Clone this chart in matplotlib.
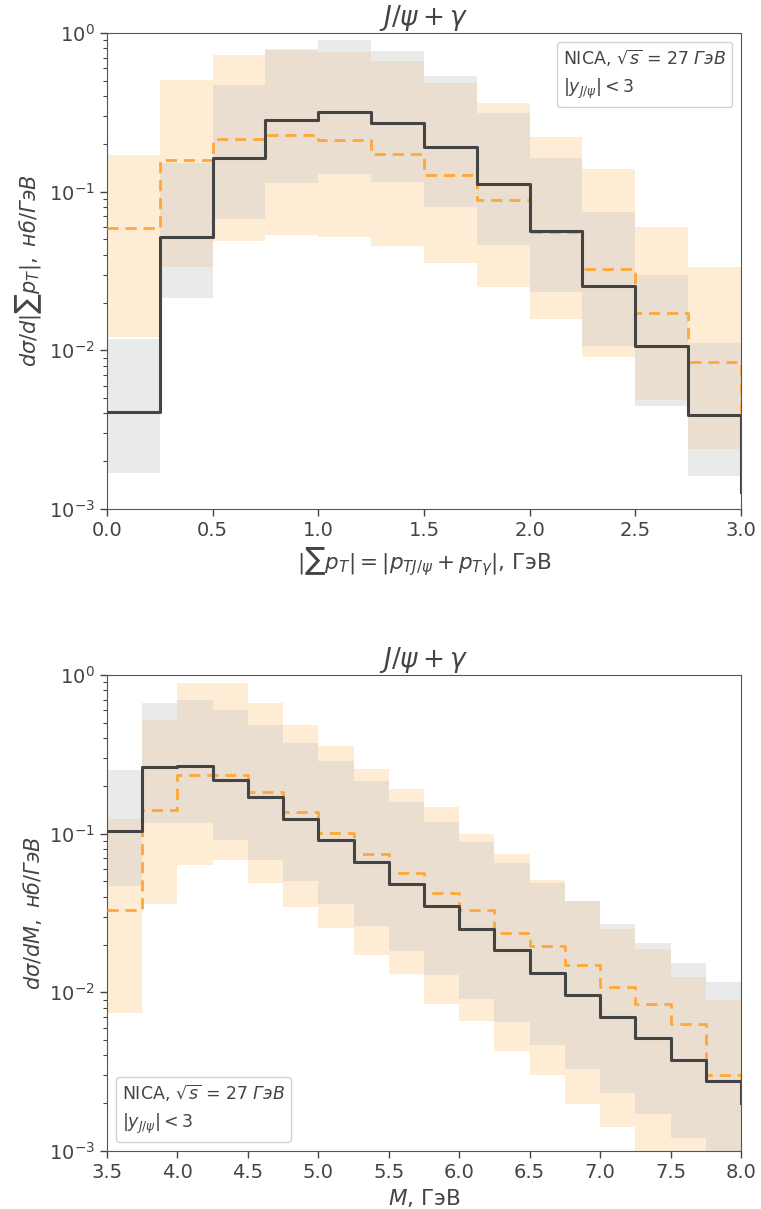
import numpy as np
import matplotlib
matplotlib.use("Agg")
import matplotlib.pyplot as plt
from matplotlib.offsetbox import AnchoredText

# --- top panel: |sum pT| distribution, bins of 0.25 GeV ---
pt_edges = np.arange(0.0, 3.0001, 0.25)
pt_main = [0.0041, 0.052, 0.164, 0.282, 0.318, 0.271, 0.192, 0.112, 0.0567, 0.0256, 0.0106, 0.0039]
pt_main_end = 0.00128
pt_alt = [0.0587, 0.158, 0.216, 0.229, 0.211, 0.172, 0.128, 0.0885, 0.0559, 0.0326, 0.0171, 0.0084]
pt_alt_end = 0.0018
pt_main_lo = [0.00169, 0.0213, 0.0672, 0.114, 0.130, 0.115, 0.0803, 0.0461, 0.0234, 0.0107, 0.00443, 0.00161]
pt_main_hi = [0.0118, 0.151, 0.469, 0.780, 0.908, 0.771, 0.534, 0.314, 0.162, 0.0741, 0.0299, 0.0112]
pt_alt_lo = [0.0121, 0.0337, 0.0491, 0.0533, 0.0516, 0.0455, 0.0354, 0.0252, 0.0158, 0.00906, 0.00483, 0.00239]
pt_alt_hi = [0.170, 0.504, 0.724, 0.790, 0.760, 0.667, 0.487, 0.360, 0.220, 0.138, 0.0601, 0.0334]

# --- bottom panel: invariant mass M, bins of 0.25 GeV ---
m_edges = np.arange(3.5, 8.0001, 0.25)
m_main = [0.1035, 0.263, 0.266, 0.219, 0.169, 0.124, 0.0918, 0.0667, 0.0485, 0.0349, 0.0252, 0.0184,
          0.0133, 0.00959, 0.00697, 0.00516, 0.00375, 0.00275]
m_main_end = 0.00201
m_alt = [0.0329, 0.140, 0.233, 0.233, 0.182, 0.136, 0.101, 0.0749, 0.0565, 0.0423, 0.0332, 0.0237,
         0.0195, 0.0148, 0.0108, 0.00849, 0.00629, 0.00303]
m_alt_end = 0.0022
m_main_lo = [0.0466, 0.1175, 0.116, 0.0918, 0.068, 0.0504, 0.0359, 0.0262, 0.01815, 0.01294, 0.00914,
             0.00651, 0.00464, 0.00327, 0.00232, 0.00172, 0.00121, 0.0009]
m_main_hi = [0.251, 0.670, 0.700, 0.599, 0.482, 0.370, 0.286, 0.215, 0.158, 0.1186, 0.0887, 0.0657,
             0.0489, 0.0375, 0.0271, 0.0205, 0.0154, 0.01153]
m_alt_lo = [0.00742, 0.0362, 0.0632, 0.068, 0.0489, 0.0345, 0.0255, 0.0173, 0.0131, 0.00849, 0.0066,
            0.00427, 0.0030, 0.00197, 0.00142, 0.0008, 0.0007, 0.0007]
m_alt_hi = [0.123, 0.523, 0.891, 0.893, 0.670, 0.487, 0.356, 0.255, 0.1905, 0.1467, 0.0995, 0.0745,
            0.0514, 0.0378, 0.0250, 0.0187, 0.0125, 0.0089]

TXT = "#444444"
plt.rcParams.update({
    "font.family": ["DejaVu Sans"],
    "mathtext.fontset": "dejavusans",
    "text.color": TXT,
    "axes.labelcolor": TXT,
    "xtick.color": TXT,
    "ytick.color": TXT,
    "axes.edgecolor": "#555555",
})


def ext(v, end=None):
    v = list(v)
    return np.array(v + [v[-1] if end is None else end])


def panel(ax, edges, main, main_end, alt, alt_end, mlo, mhi, alo, ahi):
    ax.fill_between(edges, ext(alo), ext(ahi), step="post", color="#feecd4", lw=0, zorder=1)
    ax.fill_between(edges, ext(mlo), ext(mhi), step="post", color="#c2c6c8", alpha=0.35, lw=0, zorder=2)
    ax.step(edges, ext(alt, alt_end), where="post", color="#ffa838", lw=2, ls=(0, (4, 2.5)), zorder=3)
    ax.step(edges, ext(main, main_end), where="post", color="#444444", lw=2.2, zorder=4)
    ax.set_yscale("log")
    ax.set_ylim(1e-3, 1)
    ax.set_xlim(edges[0], edges[-1])
    ax.set_title(r"$J/\psi + \gamma$", fontsize=19, pad=5)
    ax.tick_params(labelsize=14, length=5, width=1)
    ax.tick_params(which="minor", length=3, width=0.8)


def label_box(ax, loc):
    at = AnchoredText("NICA, $\\sqrt{s}$ = 27 $ГэВ$\n$|y_{J/\\psi}| < 3$", loc=loc,
                      prop=dict(size=12.5, color=TXT, linespacing=1.5), frameon=True,
                      borderpad=0.5, pad=0.35)
    at.patch.set_boxstyle("round,pad=0.,rounding_size=0.2")
    at.patch.set_edgecolor("#cccccc")
    at.patch.set_alpha(0.9)
    ax.add_artist(at)


fig = plt.figure(figsize=(7.61, 12.09), dpi=100)
ax1 = fig.add_axes([0.1406, 0.579, 0.8331, 0.3937])
ax2 = fig.add_axes([0.1406, 0.048, 0.8331, 0.3937])

panel(ax1, pt_edges, pt_main, pt_main_end, pt_alt, pt_alt_end, pt_main_lo, pt_main_hi, pt_alt_lo, pt_alt_hi)
ax1.set_xticks(np.arange(0, 3.01, 0.5))
ax1.set_xlabel(r"$|\sum p_T| = |p_{TJ/\psi} + p_{T\gamma}|$, ГэВ", fontsize=15.5)
ax1.set_ylabel(r"$d\sigma/d|\sum p_T|,\ нб/ГэВ$", fontsize=15)
label_box(ax1, "upper right")

panel(ax2, m_edges, m_main, m_main_end, m_alt, m_alt_end, m_main_lo, m_main_hi, m_alt_lo, m_alt_hi)
ax2.set_xticks(np.arange(3.5, 8.01, 0.5))
ax2.set_xlabel(r"$M$, ГэВ", fontsize=15.5)
ax2.set_ylabel(r"$d\sigma/dM,\ нб/ГэВ$", fontsize=15)
label_box(ax2, "lower left")

fig.savefig("out.png", dpi=100)
